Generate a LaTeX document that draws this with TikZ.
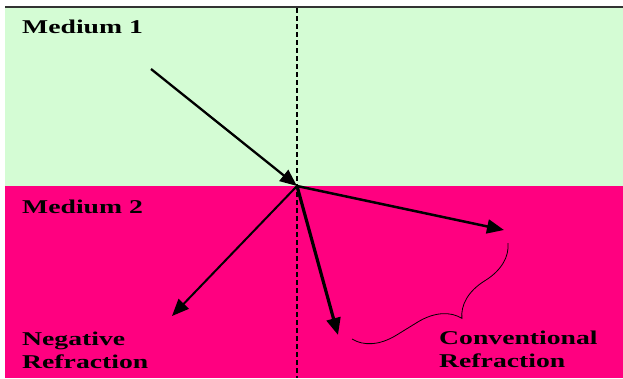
\documentclass[tikz,border=0pt]{standalone}
\usepackage{fontspec}
\setmainfont{Liberation Serif}
\newfontfamily\lblfont[FakeStretch=1.42]{Liberation Serif Bold}
\usetikzlibrary{arrows.meta,decorations.pathreplacing}
\definecolor{mgreen}{RGB}{212,252,212}
\definecolor{mpink}{RGB}{255,0,128}
\begin{document}
\begin{tikzpicture}[x=1pt,y=-1pt,
  lbl/.style={font=\lblfont\fontsize{19.5}{23}\selectfont, anchor=base west, inner sep=0pt},
  ray/.style={draw=black, -{Triangle[length=17pt,width=14pt]}},
  normalline/.style={draw=black, line width=1.2pt, dash pattern=on 5pt off 3pt},
  bracestyle/.style={draw=black, line width=0.8pt, decorate,
    decoration={brace, amplitude=40pt, aspect=0.43}}
]
\useasboundingbox (0,0) rectangle (623,378);
\fill[white] (0,0) rectangle (623,378);
\fill[mgreen] (5,7) rectangle (623,186);
\fill[mpink] (5,186) rectangle (623,378);
\draw[line width=1.5pt, black!80] (5,7) -- (623,7);

% normal
\coordinate (ntop) at (297,8);
\coordinate (nbot) at (297,378);
\draw[normalline] (ntop) -- (nbot);

% points
\coordinate (O) at (297,186);
\coordinate (src) at (151,69);
\coordinate (conv1) at (504,230);
\coordinate (conv2) at (338,335);
\coordinate (neg) at (172,316);
\coordinate (bA) at (508,243);
\coordinate (bB) at (352,339);

% rays
\draw[ray, line width=2.3pt] (src) -- (O);
\draw[ray, line width=2.5pt] (O) -- (conv1);
\draw[ray, line width=3.2pt] (O) -- (conv2);
\draw[ray, line width=2pt] (O) -- (neg);

% brace
\draw[bracestyle] (bA) -- (bB);

% labels
\node[lbl] (m1) at (22,33) {Medium 1};
\node[lbl] (m2) at (22,213) {Medium 2};
\node[lbl] (neg1) at (22,345) {Negative};
\node[lbl] (neg2) at (22,368) {Refraction};
\node[lbl] (con1) at (439,344) {Conventional};
\node[lbl] (con2) at (439,367) {Refraction};
\end{tikzpicture}
\end{document}
